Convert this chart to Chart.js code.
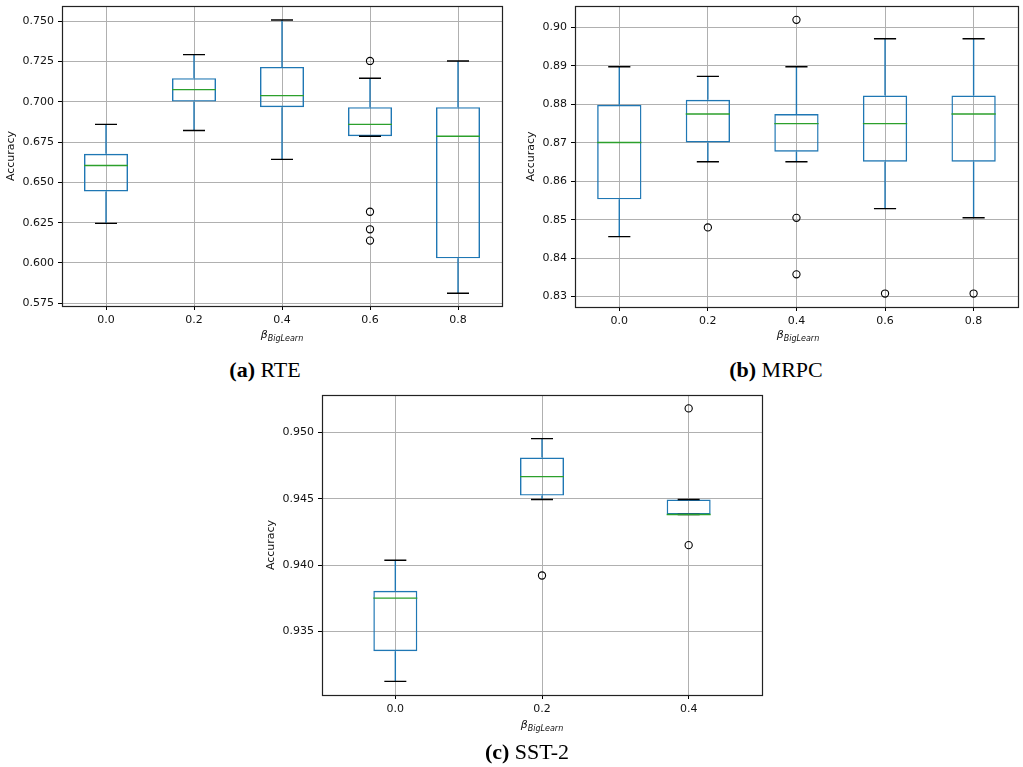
<!DOCTYPE html>
<html>
<head>
<meta charset="utf-8">
<script src="https://cdn.jsdelivr.net/npm/chart.js@4.4.0/dist/chart.umd.min.js"></script>
<style>
    body { margin: 0; background: #fff; width: 1023px; height: 767px; position: relative; overflow: hidden; }
    .panel { position: absolute; }
    .xlab { position: absolute; font-family: "DejaVu Sans"; font-style: italic; font-size: 11px; line-height: 12px; color: #111; transform: translateX(-50%); white-space: nowrap; }
    .xlab sub { font-size: 8px; vertical-align: -3px; }
    .cap { position: absolute; font-family: "Liberation Serif"; font-size: 22px; line-height: 22px; color: #000; transform: translateX(-50%); white-space: nowrap; }
</style>
</head>
<body>
<div class="panel" style="left:0;top:0;width:510px;height:345px"><canvas id="rteChart"></canvas></div>
<div class="panel" style="left:510px;top:0;width:513px;height:345px"><canvas id="mrpcChart"></canvas></div>
<div class="panel" style="left:260px;top:385px;width:510px;height:345px"><canvas id="sstChart"></canvas></div>

<div class="xlab" style="left:282px;top:329px">β<sub>BigLearn</sub></div>
<div class="xlab" style="left:798px;top:329px">β<sub>BigLearn</sub></div>
<div class="xlab" style="left:542px;top:719px">β<sub>BigLearn</sub></div>

<div class="cap" style="left:265px;top:359px"><b>(a)</b> RTE</div>
<div class="cap" style="left:776px;top:359px"><b>(b)</b> MRPC</div>
<div class="cap" style="left:527px;top:741px"><b>(c)</b> SST-2</div>

<script>
// RTE
const rteLabels = ['0.0', '0.2', '0.4', '0.6', '0.8'];
const rteLow = [0.6246, 0.6822, 0.6643, 0.6787, 0.5812];
const rteQ1 = [0.6444, 0.7002, 0.6967, 0.6787, 0.6029];
const rteMedian = [0.6605, 0.7076, 0.7039, 0.6860, 0.6787];
const rteQ3 = [0.6678, 0.7147, 0.7217, 0.6967, 0.6967];
const rteHigh = [0.6860, 0.7293, 0.7508, 0.7147, 0.7254];
const rteOutliers = [[], [], [], [0.7254, 0.6318, 0.6209, 0.6139], []];
const rteTicks = [0.575, 0.600, 0.625, 0.650, 0.675, 0.700, 0.725, 0.750];

// MRPC
const mrpcLabels = ['0.0', '0.2', '0.4', '0.6', '0.8'];
const mrpcLow = [0.8456, 0.8651, 0.8651, 0.8529, 0.8505];
const mrpcQ1 = [0.8553, 0.8701, 0.8677, 0.8651, 0.8651];
const mrpcMedian = [0.8701, 0.8775, 0.8750, 0.8750, 0.8775];
const mrpcQ3 = [0.8799, 0.8812, 0.8775, 0.8823, 0.8823];
const mrpcHigh = [0.8898, 0.8873, 0.8898, 0.8971, 0.8971];
const mrpcOutliers = [[], [0.8480], [0.9020, 0.8505, 0.8358], [0.8308], [0.8308]];
const mrpcTicks = [0.83, 0.84, 0.85, 0.86, 0.87, 0.88, 0.89, 0.90];

// SST-2
const sstLabels = ['0.0', '0.2', '0.4'];
const sstLow = [0.93123, 0.94495, 0.94382];
const sstQ1 = [0.93351, 0.94525, 0.94382];
const sstMedian = [0.93751, 0.94668, 0.94382];
const sstQ3 = [0.93806, 0.94812, 0.94495];
const sstHigh = [0.94037, 0.94955, 0.94495];
const sstOutliers = [[], [0.93922], [0.95183, 0.94151]];
const sstTicks = [0.935, 0.940, 0.945, 0.950];

const BLUE = '#1f77b4';
const GREEN = '#2ca02c';
const GRID = '#b0b0b0';
const TEXT = '#111';

// draws the black frame round the plot area
const framePlugin = {
    id: 'frame',
    afterDraw(chart) {
        const { ctx, chartArea: a } = chart;
        ctx.save();
        ctx.strokeStyle = '#222';
        ctx.lineWidth = 1.2;
        ctx.strokeRect(Math.round(a.left) + 0.5, Math.round(a.top) + 0.5,
            Math.round(a.right - a.left), Math.round(a.bottom - a.top));
        ctx.restore();
    }
};

// horizontal or vertical segments, separated by gaps
function segments(pairs) {
    const out = [];
    pairs.forEach(([p, q]) => {
        out.push(p, q, { x: q.x, y: null });
    });
    return out;
}

function boxChart(id, d, layout) {
    const n = d.labels.length;
    const boxWidth = Math.min(Math.max(0.15 * (n - 1), 0.15), 0.5);
    const half = boxWidth / 2;
    const cap = half / 2;
    const idx = d.labels.map((_, i) => i);

    const whiskers = segments(idx.flatMap(i => [
        [{ x: i, y: d.q3[i] }, { x: i, y: d.high[i] }],
        [{ x: i, y: d.q1[i] }, { x: i, y: d.low[i] }]
    ]));
    const caps = segments(idx.flatMap(i => [
        [{ x: i - cap, y: d.high[i] }, { x: i + cap, y: d.high[i] }],
        [{ x: i - cap, y: d.low[i] }, { x: i + cap, y: d.low[i] }]
    ]));
    const medians = segments(idx.map(i =>
        [{ x: i - half, y: d.median[i] }, { x: i + half, y: d.median[i] }]
    ));
    const fliers = idx.flatMap(i => d.outliers[i].map(v => ({ x: i, y: v })));

    const lineDs = (data, color) => ({
        type: 'line', data, borderColor: color, borderWidth: 1.4,
        pointRadius: 0, spanGaps: false, tension: 0
    });

    new Chart(document.getElementById(id), {
        data: {
            datasets: [
                {
                    type: 'scatter', data: fliers, pointStyle: 'circle', pointRadius: 3.6,
                    borderColor: '#000', backgroundColor: 'rgba(0,0,0,0)', borderWidth: 1.1
                },
                lineDs(medians, GREEN),
                lineDs(caps, '#000'),
                {
                    type: 'bar', data: idx.map(i => ({ x: i, y: [d.q1[i], d.q3[i]] })),
                    backgroundColor: 'rgba(0,0,0,0)', borderColor: BLUE, borderWidth: 1.4,
                    borderSkipped: false, barPercentage: boxWidth, categoryPercentage: 1, grouped: false
                },
                lineDs(whiskers, BLUE)
            ]
        },
        options: {
            responsive: true,
            maintainAspectRatio: false,
            animation: false,
            events: [],
            layout: { padding: layout.padding },
            plugins: { legend: { display: false }, tooltip: { enabled: false } },
            scales: {
                x: {
                    type: 'linear', min: -0.5, max: n - 0.5, offset: false,
                    afterBuildTicks: s => { s.ticks = idx.map(v => ({ value: v })); },
                    afterFit: s => { s.height = layout.xHeight; s.paddingLeft = 0; s.paddingRight = 0; },
                    grid: { offset: false, color: GRID, lineWidth: 1, tickColor: '#000', tickLength: 4 },
                    border: { display: false },
                    ticks: {
                        callback: v => d.labels[v], padding: 4, maxRotation: 0, autoSkip: false,
                        color: TEXT, font: { family: 'DejaVu Sans', size: 11 }
                    }
                },
                y: {
                    min: d.yMin, max: d.yMax,
                    afterBuildTicks: s => { s.ticks = d.ticks.map(v => ({ value: v })); },
                    afterFit: s => { s.width = layout.yWidth; s.paddingTop = 0; s.paddingBottom = 0; },
                    grid: { color: GRID, lineWidth: 1, tickColor: '#000', tickLength: 4 },
                    border: { display: false },
                    ticks: {
                        callback: v => v.toFixed(d.decimals), padding: 4, autoSkip: false,
                        color: TEXT, font: { family: 'DejaVu Sans', size: 11 }
                    },
                    title: {
                        display: true, text: 'Accuracy', color: TEXT,
                        font: { family: 'DejaVu Sans', size: 11 },
                        padding: { top: layout.titlePad, bottom: 0 }
                    }
                }
            }
        },
        plugins: [framePlugin]
    });
}

boxChart('rteChart', {
    labels: rteLabels, low: rteLow, q1: rteQ1, median: rteMedian, q3: rteQ3, high: rteHigh,
    outliers: rteOutliers, ticks: rteTicks, yMin: 0.5733, yMax: 0.7595, decimals: 3
}, { padding: { left: 0, right: 8, top: 6, bottom: 0 }, yWidth: 62, xHeight: 39, titlePad: 5 });

boxChart('mrpcChart', {
    labels: mrpcLabels, low: mrpcLow, q1: mrpcQ1, median: mrpcMedian, q3: mrpcQ3, high: mrpcHigh,
    outliers: mrpcOutliers, ticks: mrpcTicks, yMin: 0.8273, yMax: 0.9056, decimals: 2
}, { padding: { left: 0, right: 1, top: 6, bottom: 0 }, yWidth: 65, xHeight: 38, titlePad: 15 });

boxChart('sstChart', {
    labels: sstLabels, low: sstLow, q1: sstQ1, median: sstMedian, q3: sstQ3, high: sstHigh,
    outliers: sstOutliers, ticks: sstTicks, yMin: 0.9302, yMax: 0.95284, decimals: 3
}, { padding: { left: 0, right: 8, top: 10, bottom: 0 }, yWidth: 62, xHeight: 35, titlePad: 5 });
</script>
</body>
</html>
